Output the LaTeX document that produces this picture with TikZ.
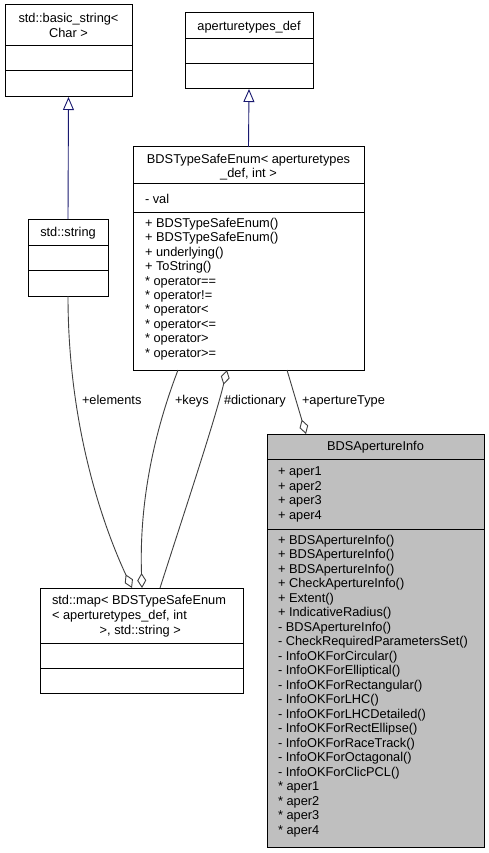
\documentclass[tikz,border=0pt]{standalone}
\usepackage{fontspec}
\setmainfont{Liberation Sans}
\usetikzlibrary{arrows.meta}
\definecolor{edgegray}{HTML}{404040}
\definecolor{inhblue}{HTML}{191970}
\definecolor{infofill}{HTML}{BFBFBF}
\begin{document}
\begin{tikzpicture}[x=1pt,y=-1pt,
  lbl/.style={font=\fontsize{12.8}{14.5}\selectfont, inner sep=0pt, outer sep=0pt},
  cls/.style={draw=black, line width=1pt, fill=white, inner sep=0pt, outer sep=0pt, anchor=north west, rectangle},
  sep/.style={black, line width=1pt},
  edge/.style={draw=edgegray, line width=0.9pt},
  inh/.style={draw=inhblue, line width=0.9pt, -{Triangle[open, length=13pt, width=11pt]}},
  agg/.style={edge, -{Diamond[open, length=15pt, width=9pt]}}]
\useasboundingbox[fill=white] (0,0) rectangle (488,853);

% class boxes
\node[cls, minimum width=127pt, minimum height=92pt] (basic) at (5,5) {};
\draw[sep] (basic.west |- 0,46) -- (basic.east |- 0,46);
\draw[sep] (basic.west |- 0,71) -- (basic.east |- 0,71);

\node[cls, minimum width=128pt, minimum height=76pt] (apt) at (185,13) {};
\draw[sep] (apt.west |- 0,39) -- (apt.east |- 0,39);
\draw[sep] (apt.west |- 0,64) -- (apt.east |- 0,64);

\node[cls, minimum width=231pt, minimum height=223pt] (enum) at (133,147) {};
\draw[sep] (enum.west |- 0,183) -- (enum.east |- 0,183);
\draw[sep] (enum.west |- 0,212) -- (enum.east |- 0,212);

\node[cls, minimum width=80pt, minimum height=77pt] (str) at (28,219) {};
\draw[sep] (str.west |- 0,245) -- (str.east |- 0,245);
\draw[sep] (str.west |- 0,270) -- (str.east |- 0,270);

\node[cls, minimum width=203pt, minimum height=105pt] (map) at (40,588) {};
\draw[sep] (map.west |- 0,643) -- (map.east |- 0,643);
\draw[sep] (map.west |- 0,668) -- (map.east |- 0,668);

\node[cls, fill=infofill, minimum width=217pt, minimum height=413pt] (info) at (267,434) {};
\draw[sep] (info.west |- 0,459) -- (info.east |- 0,459);
\draw[sep] (info.west |- 0,529) -- (info.east |- 0,529);

% inheritance
\draw[inh] (str.north) -- (basic.south);
\draw[inh] (enum.north) -- (apt.south);

% aggregations
\draw[agg] (str.south) .. controls (68,430) and (105,530) .. ([xshift=92pt]map.north west);
\draw[agg] ([xshift=45pt]enum.south west) .. controls (155,430) and (139,500) .. ([xshift=102pt]map.north west);
\draw[agg] ([xshift=120pt]map.north west) .. controls (185,510) and (215,420) .. ([xshift=94pt]enum.south west);
\draw[agg] ([xshift=154pt]enum.south west) -- ([xshift=39pt]info.north west);

% edge labels
\node[lbl, anchor=base west] (lelem) at (82,404.3) {+elements};
\node[lbl, anchor=base west] (lkeys) at (175,404.3) {+keys};
\node[lbl, anchor=base west] (ldict) at (224,404.3) {\#dictionary};
\node[lbl, anchor=base west] (ltype) at (302,404.3) {+apertureType};

% texts
\node[lbl, anchor=base] (basicT1) at (68.5,22.7) {std::basic\_string<};
\node[lbl, anchor=base] (basicT2) at (68.5,37.3) {Char >};
\node[lbl, anchor=base] (aptT) at (249,30.5) {aperturetypes\_def};
\node[lbl, anchor=base] (enumT1) at (248.5,163.3) {BDSTypeSafeEnum< aperturetypes};
\node[lbl, anchor=base] (enumT2) at (248.5,177.7) {\_def, int >};
\node[lbl, anchor=base west] (enumA) at (145,203.3) {- val};
\foreach \t [count=\i from 0] in {+ BDSTypeSafeEnum(), + BDSTypeSafeEnum(), + underlying(), + ToString(),
  * operator==, * operator!=, * operator<, * operator<=, * operator>, * operator>=}
  \node[lbl, anchor=base west] (enumM\i) at (145,{227.3+14.44*\i}) {\t};
\node[lbl, anchor=base] (strT) at (68,236.5) {std::string};
\node[lbl, anchor=base west] (mapT1) at (52,604) {std::map< BDSTypeSafeEnum};
\node[lbl, anchor=base west] (mapT2) at (52,619.5) {< aperturetypes\_def, int};
\node[lbl, anchor=base west] (mapT3) at (99.7,634) {>, std::string >};
\node[lbl, anchor=base] (infoT) at (375.5,450.5) {BDSApertureInfo};
\foreach \t [count=\i from 0] in {+ aper1, + aper2, + aper3, + aper4}
  \node[lbl, anchor=base west] (infoA\i) at (278,{475.7+14.5*\i}) {\t};
\foreach \t [count=\i from 0] in {+ BDSApertureInfo(), + BDSApertureInfo(), + BDSApertureInfo(),
  + CheckApertureInfo(), + Extent(), + IndicativeRadius(), - BDSApertureInfo(),
  - CheckRequiredParametersSet(), - InfoOKForCircular(), - InfoOKForElliptical(),
  - InfoOKForRectangular(), - InfoOKForLHC(), - InfoOKForLHCDetailed(),
  - InfoOKForRectEllipse(), - InfoOKForRaceTrack(), - InfoOKForOctagonal(),
  - InfoOKForClicPCL(), * aper1, * aper2, * aper3, * aper4}
  \node[lbl, anchor=base west] (infoM\i) at (278,{544.3+14.5*\i}) {\t};
\end{tikzpicture}
\end{document}
